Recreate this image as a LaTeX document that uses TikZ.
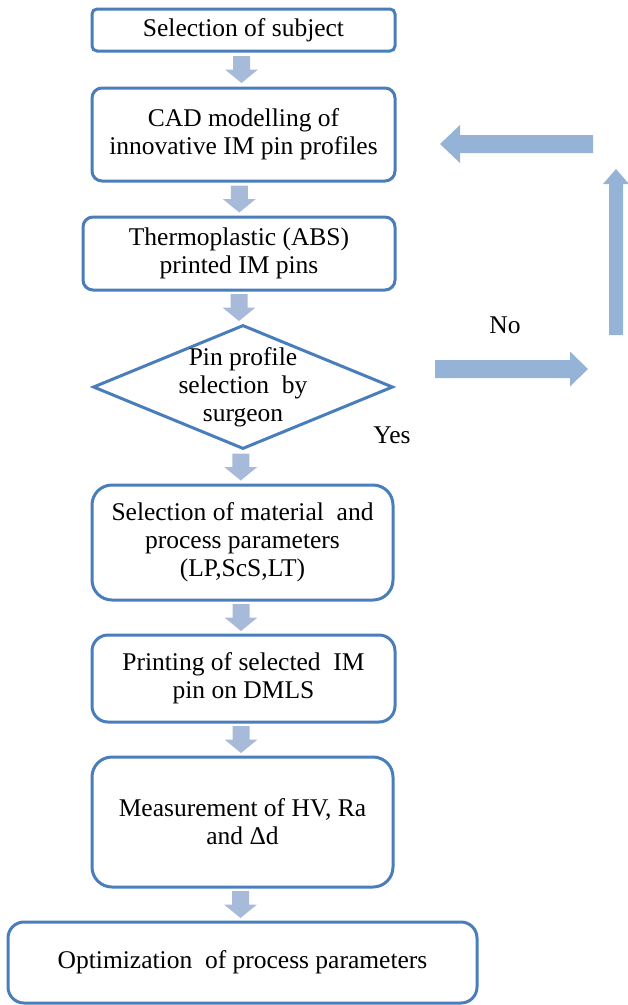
\documentclass[tikz,border=0pt]{standalone}
\usepackage{fontspec}
\setmainfont{Liberation Serif}
\usetikzlibrary{shapes.geometric}
\definecolor{bord}{HTML}{4A7EBB}
\definecolor{sarr}{HTML}{A7BADA}
\definecolor{barr}{HTML}{95B3D7}
\tikzset{
  box/.style={draw=bord, line width=3pt, fill=white, align=center, inner sep=0pt,
    font=\fontsize{25.5}{28}\selectfont},
  lbl/.style={font=\fontsize{25.5}{28}\selectfont},
  darr/.pic={\fill[sarr] (-8.5,13.5) -- (8.5,13.5) -- (8.5,0) -- (16.5,0) -- (0,-13.5) -- (-16.5,0) -- (-8.5,0) -- cycle;}
}
\begin{document}
\begin{tikzpicture}[x=1pt,y=1pt]
\useasboundingbox (0,0) rectangle (628,-1005);
% boxes
\node[box, rounded corners=5pt, minimum width=303pt, minimum height=42pt] (b1) at (243.5,-30) {Selection of subject};
\node[box, rounded corners=10pt, minimum width=303pt, minimum height=93pt] (b2) at (243.5,-134.5) {CAD modelling of\\innovative IM pin profiles};
\node[box, rounded corners=10pt, minimum width=312pt, minimum height=73pt] (b3) at (239,-253.5) {Thermoplastic (ABS)\\printed IM pins};
\node[diamond, draw=bord, line width=3pt, minimum width=300pt, minimum height=124pt, inner sep=0pt] (d) at (243,-387) {};
\node[lbl, align=center] (dt) at (d.center) {Pin profile\\selection\ \ by\\surgeon};
\node[box, rounded corners=20pt, minimum width=301pt, minimum height=115pt] (b4) at (242.5,-542.5) {Selection of material\ \ and\\process parameters\\(LP,ScS,LT)};
\node[box, rounded corners=16pt, minimum width=303pt, minimum height=87pt] (b5) at (243.5,-678.5) {Printing of selected\ \ IM\\pin on DMLS};
\node[box, rounded corners=20pt, minimum width=301pt, minimum height=130pt] (b6) at (242.5,-822) {Measurement of HV, Ra\\and Δd};
\node[box, rounded corners=16pt, minimum width=469pt, minimum height=81pt] (b7) at (242.5,-962.5) {Optimization\ \ of process parameters};
% labels
\node[lbl] (yes) at (392,-435) {Yes};
\node[lbl] (no) at (505,-325) {No};
% small down arrows
\path (b1.south) -- (b2.north) coordinate[midway] (m1);
\path (b2.south) -- (b3.north) coordinate[midway] (m2);
\path (b3.south) -- (d.north) coordinate[midway] (m3);
\path (d.south) -- (b4.north) coordinate[midway] (m4);
\path (b4.south) -- (b5.north) coordinate[midway] (m5);
\path (b5.south) -- (b6.north) coordinate[midway] (m6);
\path (b6.south) -- (b7.north) coordinate[midway] (m7);
\foreach \m in {m1,m2,m3,m4,m5,m6,m7} { \pic at ([xshift=-2pt]\m) {darr}; }
% big loop arrows
\coordinate (ra) at (435,-369);
\fill[barr] (ra) ++(0,9) -- ++(135,0) -- ++(0,8.5) -- ++(18,-17.5) -- ++(-18,-17.5) -- ++(0,8.5) -- ++(-135,0) -- cycle;
\coordinate (ua) at (616,-335);
\fill[barr] (ua) ++(-7,0) -- ++(0,151) -- ++(-6,0) -- ++(13,15) -- ++(13,-15) -- ++(-6,0) -- ++(0,-151) -- cycle;
\coordinate (la) at (593,-144);
\fill[barr] (la) ++(0,9) -- ++(-133,0) -- ++(0,10) -- ++(-20,-19) -- ++(20,-19) -- ++(0,10) -- ++(133,0) -- cycle;
\end{tikzpicture}
\end{document}
